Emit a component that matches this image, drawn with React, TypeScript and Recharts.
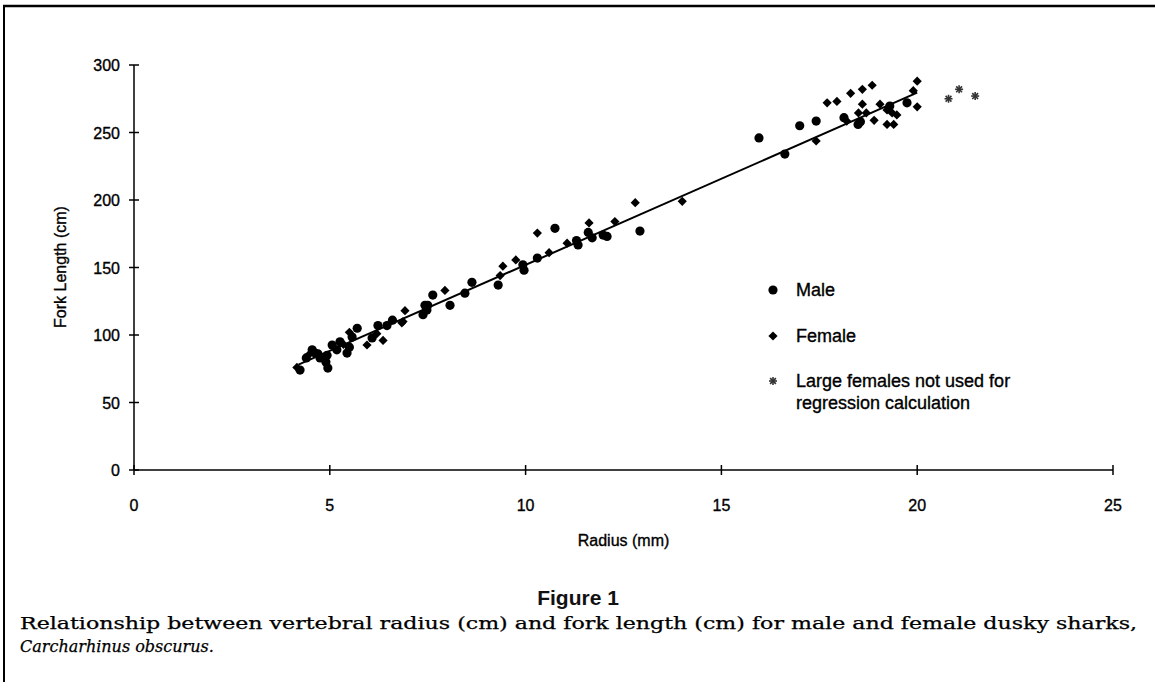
import React from 'react';
import { ScatterChart, Scatter, XAxis, YAxis } from 'recharts';

// vertebral radius (mm) and fork length (cm)
const maleRadius = [4.24, 4.4, 4.55, 4.6, 4.7, 4.75, 4.9, 4.93, 4.95, 5.06, 5.18, 5.26, 5.44, 5.5, 5.57, 5.7, 6.08, 6.23, 6.46, 6.6, 7.38, 7.43, 7.48, 7.5, 7.63, 8.07, 8.45, 8.63, 9.3, 9.93, 9.96, 10.3, 10.75, 11.3, 11.34, 11.6, 11.7, 11.98, 12.08, 12.92, 15.96, 16.62, 17.0, 17.42, 18.13, 18.49, 18.55, 19.3, 19.74];
const maleLength = [74, 83, 89, 87, 86, 83, 80, 85, 75.5, 92.6, 89, 95, 86.6, 91, 98.5, 105, 97.8, 107, 107, 111, 115, 122, 118.5, 122, 129.6, 122, 131, 139, 137, 152, 148, 157, 179, 170, 166.7, 176, 172, 174, 173, 177, 246, 234, 255, 258.5, 261, 256, 258, 269.6, 272];

const femaleRadius = [4.16, 4.45, 5.35, 5.5, 5.95, 6.2, 6.36, 6.84, 6.87, 6.92, 7.94, 9.35, 9.42, 9.75, 10.3, 10.6, 11.06, 11.62, 12.28, 12.8, 14.0, 17.42, 17.7, 17.95, 18.2, 18.3, 18.5, 18.6, 18.6, 18.7, 18.85, 18.9, 19.05, 19.23, 19.23, 19.36, 19.4, 19.48, 19.9, 20.0, 20.0];
const femaleLength = [76, 85, 93, 102, 92.6, 101, 96, 109, 110, 118, 133, 144, 151, 155.6, 175.5, 161, 168, 183, 184, 198, 199, 243.7, 272, 273, 258.5, 279, 264.5, 282, 271, 264.5, 285, 259, 271, 266.7, 256, 264.5, 256, 263, 281, 288, 269];

const largeFemaleRadius = [20.8, 21.07, 21.48];
const largeFemaleLength = [275, 282, 277];

// fitted regression line end points
const regressionRadius = [4.2, 20.0];
const regressionLength = [78, 279.5];

const xTicks = [0, 5, 10, 15, 20, 25];
const yTicks = [0, 50, 100, 150, 200, 250, 300];

const toPoints = (rs: number[], fls: number[]) => rs.map((r, i) => ({ r, fl: fls[i] }));

const W = 1155;
const H = 691;
const PLOT_LEFT = 134;
const PLOT_RIGHT = 1113;
const PLOT_TOP = 65;
const PLOT_BOTTOM = 470;
const YAXIS_W = 60;
const XAXIS_H = 40;
const SANS = '"Liberation Sans", Arial, sans-serif';
const SERIF = '"DejaVu Serif", "Liberation Serif", serif';
// the scan makes all lettering a little heavier
const INK = { fill: '#000', stroke: '#000', strokeWidth: 0.35 };

const Dot = (p: any) => <circle cx={p.cx} cy={p.cy} r={4.6} fill="#000" />;

const Diamond = (p: any) => {
  const s = 4.6;
  return (
    <polygon
      points={`${p.cx},${p.cy - s} ${p.cx + s},${p.cy} ${p.cx},${p.cy + s} ${p.cx - s},${p.cy}`}
      fill="#000"
    />
  );
};

const Star = (p: any) => {
  const s = 4;
  const d = 2.9;
  return (
    <g stroke="#333" strokeWidth={1.6}>
      <line x1={p.cx - s} x2={p.cx + s} y1={p.cy} y2={p.cy} />
      <line x1={p.cx} x2={p.cx} y1={p.cy - s} y2={p.cy + s} />
      <line x1={p.cx - d} x2={p.cx + d} y1={p.cy - d} y2={p.cy + d} />
      <line x1={p.cx - d} x2={p.cx + d} y1={p.cy + d} y2={p.cy - d} />
    </g>
  );
};

const YTick = ({ y, payload }: any) => (
  <g>
    <line x1={PLOT_LEFT - 5} x2={PLOT_LEFT + 5} y1={y} y2={y} stroke="#000" strokeWidth={1.5} />
    <text x={PLOT_LEFT - 14} y={y + 6} textAnchor="end" fontSize={16} fontFamily={SANS} {...INK}>
      {payload.value}
    </text>
  </g>
);

const XTick = ({ x, payload }: any) => (
  <g>
    <line x1={x} x2={x} y1={PLOT_BOTTOM - 5} y2={PLOT_BOTTOM + 5} stroke="#000" strokeWidth={1.5} />
    <text x={x} y={PLOT_BOTTOM + 41} textAnchor="middle" fontSize={16} fontFamily={SANS} {...INK}>
      {payload.value}
    </text>
  </g>
);

const LegendRow = ({ y, marker, lines }: { y: number; marker: React.ReactNode; lines: string[] }) => (
  <g>
    {marker}
    {lines.map((t, i) => (
      <text key={t} x={796} y={y + 6 + i * 22} fontSize={18} fontFamily={SANS} {...INK}>
        {t}
      </text>
    ))}
  </g>
);

const App: React.FC = () => {
  const male = toPoints(maleRadius, maleLength);
  const female = toPoints(femaleRadius, femaleLength);
  const large = toPoints(largeFemaleRadius, largeFemaleLength);
  const regression = toPoints(regressionRadius, regressionLength);

  return (
    <div style={{ position: 'absolute', left: 0, top: 0, width: W, height: H, background: '#fff' }}>
      <ScatterChart
        width={W}
        height={H}
        margin={{ top: PLOT_TOP, right: W - PLOT_RIGHT, bottom: H - PLOT_BOTTOM - XAXIS_H, left: PLOT_LEFT - YAXIS_W }}
      >
        <XAxis
          type="number"
          dataKey="r"
          domain={[0, 25]}
          ticks={xTicks}
          height={XAXIS_H}
          tickLine={false}
          tick={<XTick />}
          axisLine={{ stroke: '#000', strokeWidth: 1.5 }}
        />
        <YAxis
          type="number"
          dataKey="fl"
          domain={[0, 300]}
          ticks={yTicks}
          width={YAXIS_W}
          tickLine={false}
          tick={<YTick />}
          axisLine={{ stroke: '#000', strokeWidth: 1.5 }}
        />
        <Scatter
          data={regression}
          line={{ stroke: '#000', strokeWidth: 2 }}
          shape={() => <g />}
          isAnimationActive={false}
        />
        <Scatter data={female} shape={Diamond} isAnimationActive={false} />
        <Scatter data={male} shape={Dot} isAnimationActive={false} />
        <Scatter data={large} shape={Star} isAnimationActive={false} />
      </ScatterChart>

      <svg width={W} height={H} style={{ position: 'absolute', left: 0, top: 0, pointerEvents: 'none' }}>
        {/* page frame */}
        <line x1={3} x2={W} y1={6} y2={6} stroke="#000" strokeWidth={2.5} />
        <line x1={4} x2={4} y1={5} y2={682} stroke="#000" strokeWidth={2} />

        <text
          x={62}
          y={267}
          transform="rotate(-90 62 267)"
          textAnchor="middle"
          dominantBaseline="middle"
          fontSize={16}
          fontFamily={SANS}
          {...INK}
        >
          Fork Length (cm)
        </text>
        <text x={(PLOT_LEFT + PLOT_RIGHT) / 2} y={546} textAnchor="middle" fontSize={16} fontFamily={SANS} {...INK}>
          Radius (mm)
        </text>

        <LegendRow y={290} marker={<Dot cx={773} cy={290} />} lines={['Male']} />
        <LegendRow y={336} marker={<Diamond cx={773} cy={336} />} lines={['Female']} />
        <LegendRow
          y={381}
          marker={<Star cx={773} cy={381} />}
          lines={['Large females not used for', 'regression calculation']}
        />

        <text x={578} y={605} textAnchor="middle" fontSize={21} fontWeight="bold" fontFamily={SANS} fill="#111">
          Figure 1
        </text>
        <text
          x={20}
          y={629}
          fontSize={16}
          fontFamily={SERIF}
          {...INK}
          strokeWidth={0.25}
          textLength={1117}
          lengthAdjust="spacingAndGlyphs"
        >
          Relationship between vertebral radius (cm) and fork length (cm) for male and female dusky sharks,
        </text>
        <text x={20} y={652} fontSize={16} fontStyle="italic" fontFamily={SERIF} {...INK} strokeWidth={0.25}>
          Carcharhinus obscurus.
        </text>
      </svg>
    </div>
  );
};

export default App;
